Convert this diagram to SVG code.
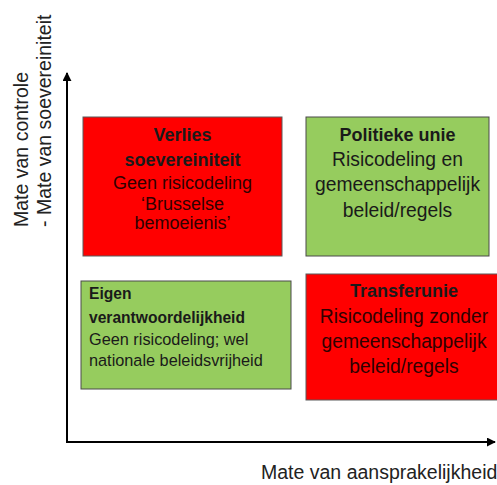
<svg xmlns="http://www.w3.org/2000/svg" width="497" height="485" viewBox="0 0 497 485">
<defs>
<style>
text{font-family:"Liberation Sans",Arial,sans-serif;fill:#1a1a1a}
.b{font-weight:bold}
.red{fill:#ff0000;stroke:#5a5a5a;stroke-width:1}
.green{fill:#96cc5e;stroke:#4a4a4a;stroke-width:1}
.rt{fill:#300000}
.axis{stroke:#000;stroke-width:2;fill:none}
.lbl{font-size:19.5px;fill:#222}
</style>
<marker id="ah" viewBox="0 0 10 10" refX="9" refY="5" markerWidth="4.5" markerHeight="4.5" orient="auto">
<path d="M0,0 L10,5 L0,10 z" fill="#000"/>
</marker>
</defs>
<g id="connectors">
<line class="axis" x1="67" y1="443" x2="67" y2="73" marker-end="url(#ah)"/>
<line class="axis" x1="66" y1="442" x2="495" y2="442" marker-end="url(#ah)"/>
</g>
<g id="y-label">
<text class="lbl" transform="translate(28,227) rotate(-90)">Mate van controle</text>
<text class="lbl" transform="translate(51,227) rotate(-90)">- Mate van soevereiniteit</text>
</g>
<g id="x-label">
<text class="lbl" x="261" y="479" font-size="19">Mate van aansprakelijkheid</text>
</g>
<g id="verlies">
<rect class="red" x="83" y="117" width="199" height="139"/>
<text class="b" x="182.5" y="141" font-size="18" text-anchor="middle" fill="#1a0000">Verlies</text>
<text class="b" x="182.5" y="166" font-size="18" text-anchor="middle" fill="#1a0000">soevereiniteit</text>
<text class="rt" x="182.5" y="189" font-size="18" text-anchor="middle">Geen risicodeling</text>
<text class="rt" x="182.5" y="210" font-size="18" text-anchor="middle">‘Brusselse</text>
<text class="rt" x="182.5" y="229" font-size="18" text-anchor="middle">bemoeienis’</text>
</g>
<g id="politieke">
<rect class="green" x="306" y="117" width="183" height="139"/>
<text class="b" x="397.5" y="141" font-size="18" text-anchor="middle">Politieke unie</text>
<text x="397.5" y="166" font-size="19.3" text-anchor="middle">Risicodeling en</text>
<text x="397.5" y="191" font-size="19.3" text-anchor="middle">gemeenschappelijk</text>
<text x="397.5" y="217" font-size="19.3" text-anchor="middle">beleid/regels</text>
</g>
<g id="eigen">
<rect class="green" x="81" y="281" width="210" height="108"/>
<text class="b" x="89" y="299" font-size="15.6">Eigen</text>
<text class="b" x="89" y="323" font-size="15.6">verantwoordelijkheid</text>
<text x="89" y="345" font-size="16.3">Geen risicodeling; wel</text>
<text x="89" y="366" font-size="16.3">nationale beleidsvrijheid</text>
</g>
<g id="transfer">
<rect class="red" x="306" y="274" width="196" height="126"/>
<text class="b" x="404" y="297" font-size="18" text-anchor="middle" fill="#1a0000">Transferunie</text>
<text class="rt" x="404" y="323" font-size="19.3" text-anchor="middle">Risicodeling zonder</text>
<text class="rt" x="404" y="348" font-size="19.3" text-anchor="middle">gemeenschappelijk</text>
<text class="rt" x="404" y="373" font-size="19.3" text-anchor="middle">beleid/regels</text>
</g>
</svg>
